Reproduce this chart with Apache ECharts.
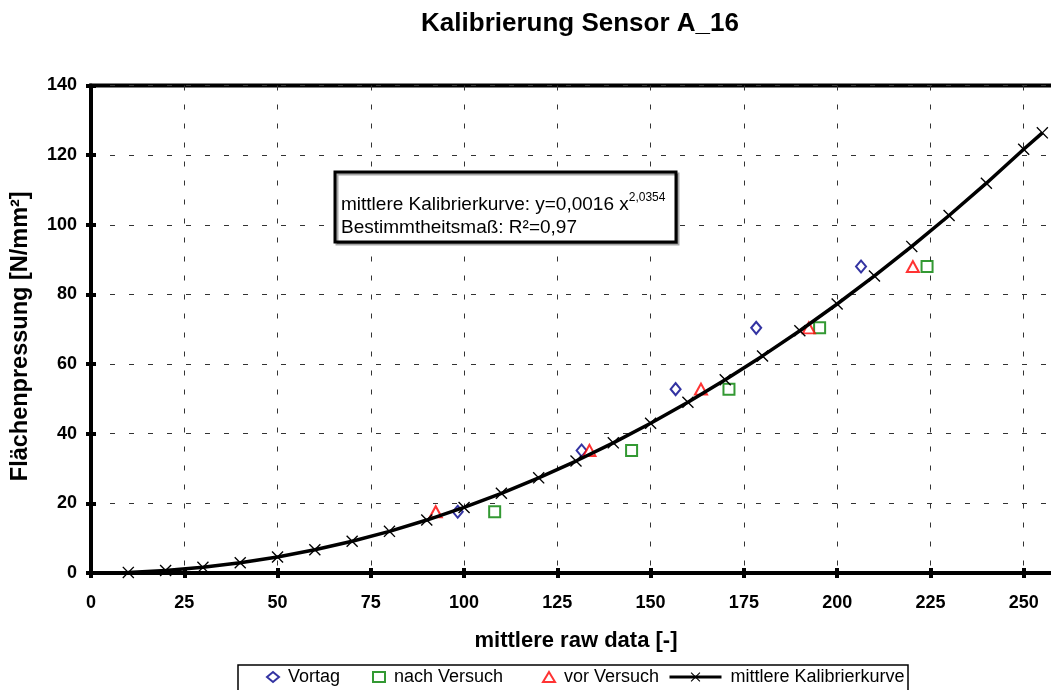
<!DOCTYPE html>
<html>
<head>
<meta charset="utf-8">
<script src="https://cdn.jsdelivr.net/npm/echarts@6/dist/echarts.min.js"></script>
<style>
  html, body { margin: 0; padding: 0; background: #fff; overflow: hidden; }
  #chart { width: 1051px; height: 690px; }
</style>
</head>
<body>
<div id="chart"></div>
<script>
// Calibration curve (mean) sampled at raw-data steps
const curveRaw   = [10, 20, 30, 40, 50, 60, 70, 80, 90, 100, 110, 120, 130, 140, 150, 160, 170, 180, 190, 200, 210, 220, 230, 240, 250, 255];
const curveForce = [0.17, 0.71, 1.62, 2.92, 4.60, 6.66, 9.12, 11.96, 15.21, 18.83, 22.88, 27.32, 32.15, 37.38, 43.01, 49.05, 55.49, 62.34, 69.58, 77.25, 85.31, 93.79, 102.67, 111.95, 121.68, 126.40];

// Applied surface pressure levels (N/mm²)
const loadLevels = [17.6, 35.2, 52.8, 70.4, 88.0];
// Raw readings for each measurement run
const vortagRaw = [98.3, 131.5, 156.7, 178.3, 206.4];
const nachRaw   = [108.2, 144.9, 171.0, 195.3, 224.1];
const vorRaw    = [92.4, 133.6, 163.5, 192.4, 220.3];

// Axis settings
const xMin = 0, xMax = 260, xStep = 25;
const yMin = 0, yMax = 140, yStep = 20;

const seriesNames = ['Vortag', 'nach Versuch', 'vor Versuch', 'mittlere Kalibrierkurve'];
const titleText = 'Kalibrierung Sensor A_16';
const xName = 'mittlere raw data [-]';
const yName = 'Flächenpressung [N/mm²]';
const fitLine1 = 'mittlere Kalibrierkurve: y=0,0016 x{sup|2,0354}';
const fitLine2 = 'Bestimmtheitsmaß: R²=0,97';

const FONT = '"Liberation Sans", Arial, sans-serif';
const crossPath = 'path://M0,0.8L0.8,0L5,4.2L9.2,0L10,0.8L5.8,5L10,9.2L9.2,10L5,5.8L0.8,10L0,9.2L4.2,5Z';

const pairs = (xs, ys) => xs.map((x, i) => [x, ys[i]]);

const chart = echarts.init(document.getElementById('chart'), null, { renderer: 'canvas' });

const tickStyle = { color: '#000', width: 4 };
const labelStyle = { fontFamily: FONT, fontSize: 18, fontWeight: 'bold', color: '#000' };
const gridDash = { color: '#333', width: 1, type: [5, 14] };

function legendAt(name, left, extra) {
  return Object.assign({
    data: [name], left: left, top: 668, orient: 'horizontal',
    itemWidth: 12, itemHeight: 10, itemGap: 0, padding: 0,
    textStyle: { fontFamily: FONT, fontSize: 18, color: '#000', padding: [0, 0, 0, 4] },
    selectedMode: false
  }, extra || {});
}

const option = {
  animation: false,
  backgroundColor: '#fff',
  title: {
    text: titleText, left: 575, top: 6, textAlign: 'center',
    textStyle: { fontFamily: FONT, fontSize: 26, fontWeight: 'bold', color: '#000' }
  },
  grid: {
    left: 91, top: 85.5, width: 970, height: 487.5,
    outerBoundsMode: 'none', containLabel: false,
    show: true, borderColor: '#000', borderWidth: 4, backgroundColor: 'transparent'
  },
  legend: [
    legendAt(seriesNames[0], 266),
    legendAt(seriesNames[1], 372),
    legendAt(seriesNames[2], 542),
    legendAt(seriesNames[3], 668, { itemWidth: 52, itemHeight: 12, lineStyle: { width: 3, color: '#000' } })
  ],
  xAxis: [
    {
      type: 'value', min: xMin, max: xMax, interval: xStep,
      name: xName, nameLocation: 'middle', nameGap: 57,
      nameTextStyle: { fontFamily: FONT, fontSize: 22, fontWeight: 'bold', color: '#000' },
      axisLine: { show: true, onZero: false, lineStyle: tickStyle },
      axisTick: { show: true, length: 5, lineStyle: tickStyle },
      axisLabel: Object.assign({ margin: 21, formatter: v => (v % xStep === 0 ? String(v) : '') }, labelStyle),
      splitLine: { show: true, lineStyle: gridDash }
    },
    {
      type: 'value', min: xMin, max: xMax, interval: xStep, position: 'bottom',
      axisLine: { show: false }, axisLabel: { show: false }, splitLine: { show: false },
      axisTick: { show: true, inside: true, length: 5, lineStyle: tickStyle }
    }
  ],
  yAxis: [
    {
      type: 'value', min: yMin, max: yMax, interval: yStep,
      name: yName, nameLocation: 'middle', nameGap: 58,
      nameTextStyle: { fontFamily: FONT, fontSize: 23.5, fontWeight: 'bold', color: '#000', padding: [0, 14, 0, 0] },
      axisLine: { show: true, onZero: false, lineStyle: tickStyle },
      axisTick: { show: true, length: 5, lineStyle: tickStyle },
      axisLabel: Object.assign({ margin: 14 }, labelStyle),
      splitLine: { show: true, lineStyle: gridDash }
    },
    {
      type: 'value', min: yMin, max: yMax, interval: yStep, position: 'left',
      axisLine: { show: false }, axisLabel: { show: false }, splitLine: { show: false },
      axisTick: { show: true, inside: true, length: 5, lineStyle: tickStyle }
    }
  ],
  series: [
    {
      name: seriesNames[0], type: 'scatter', z: 2,
      data: pairs(vortagRaw, loadLevels),
      symbol: 'diamond', symbolSize: [10, 12],
      itemStyle: { color: '#fff', borderColor: '#00008b', borderWidth: 2 }
    },
    {
      name: seriesNames[1], type: 'scatter', z: 2,
      data: pairs(nachRaw, loadLevels),
      symbol: 'rect', symbolSize: 11,
      itemStyle: { color: '#fff', borderColor: '#008000', borderWidth: 2 }
    },
    {
      name: seriesNames[2], type: 'scatter', z: 2,
      data: pairs(vorRaw, loadLevels),
      symbol: 'triangle', symbolSize: [12, 11],
      itemStyle: { color: '#fff', borderColor: '#ff0000', borderWidth: 2 }
    },
    {
      name: seriesNames[3], type: 'line', z: 3,
      data: pairs(curveRaw, curveForce),
      smooth: false, clip: false,
      symbol: crossPath, symbolSize: 12, showAllSymbol: true,
      lineStyle: { color: '#000', width: 3.5 },
      itemStyle: { color: '#000' }
    }
  ],
  graphic: [
    {
      type: 'rect', z: 1, silent: true,
      shape: { x: 238, y: 665, width: 670, height: 40 },
      style: { fill: '#fff', stroke: '#000', lineWidth: 1.5 }
    },
    {
      type: 'rect', z: 100, silent: true,
      shape: { x: 335, y: 172, width: 341, height: 70 },
      style: {
        fill: '#fff', stroke: '#000', lineWidth: 3,
        shadowColor: 'rgba(0,0,0,0.35)', shadowOffsetX: 2, shadowOffsetY: 2, shadowBlur: 0
      }
    },
    {
      type: 'text', z: 101, silent: true, x: 341, y: 205,
      style: {
        text: fitLine1, fill: '#000', font: '19px ' + FONT, verticalAlign: 'middle',
        rich: { sup: { fontSize: 12, fontFamily: FONT, verticalAlign: 'top', padding: [0, 0, 14, 0] } }
      }
    },
    {
      type: 'text', z: 101, silent: true, x: 341, y: 228,
      style: { text: fitLine2, fill: '#000', font: '19px ' + FONT, verticalAlign: 'middle' }
    }
  ]
};

chart.setOption(option);
</script>
</body>
</html>
